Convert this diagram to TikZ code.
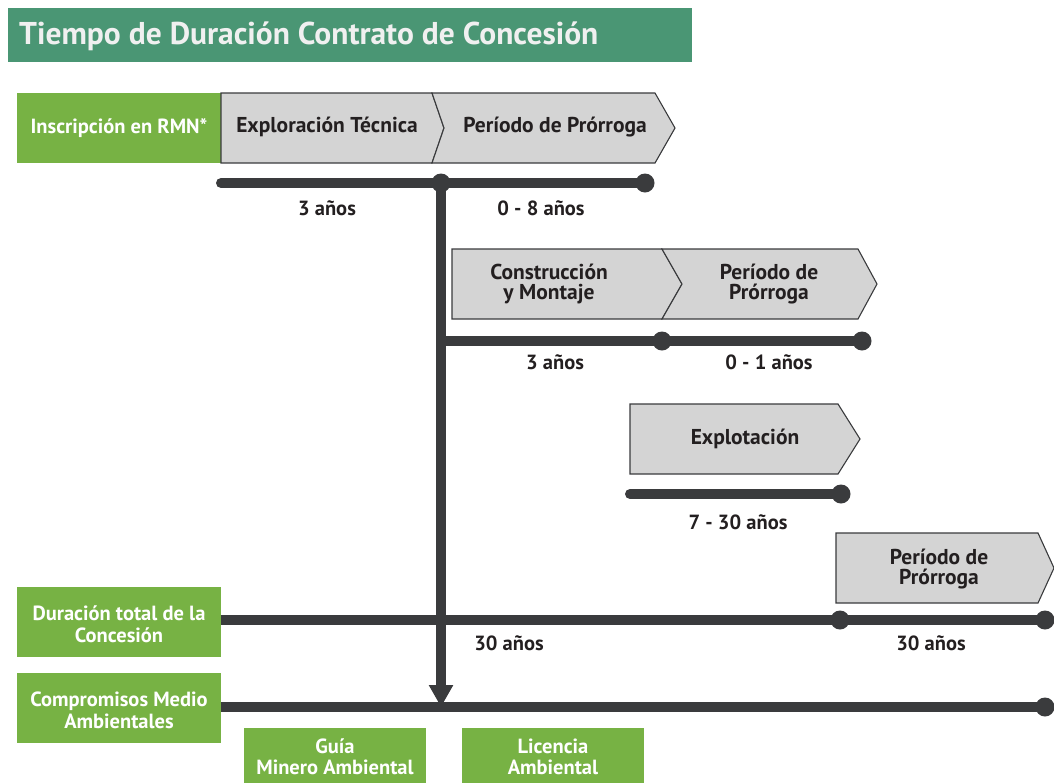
\documentclass[tikz,border=0pt]{standalone}
\usepackage{fontspec}
\setmainfont{PT Sans}
\usetikzlibrary{arrows.meta}
\definecolor{grn}{HTML}{77B244}
\definecolor{ttl}{HTML}{4A9674}
\definecolor{dk}{HTML}{3A3B3D}
\definecolor{gry}{HTML}{D4D4D4}
\definecolor{txt}{HTML}{231F20}
\begin{document}
\begin{tikzpicture}[x=1pt,y=-1pt,
  greenbox/.style={fill=grn,text=white,font=\fontsize{20.5}{22}\selectfont\bfseries,align=center,inner sep=0pt},
  chev/.style={fill=gry,draw=dk,line width=1.1pt,line join=miter},
  chevtext/.style={text=txt,font=\fontsize{21.5}{19.5}\selectfont\bfseries,align=center,inner sep=0pt},
  lab/.style={text=txt,font=\fontsize{20.5}{20}\selectfont\bfseries,inner sep=0pt},
  tl/.style={draw=dk,line width=10pt,line cap=round},
  dotc/.style={circle,fill=dk,minimum size=19pt,inner sep=0pt}]
\useasboundingbox (0,0) rectangle (1054,782);
% title
\fill[ttl] (8,8) rectangle (692,62);
\node[anchor=west,text=white!94!black,font=\fontsize{31.5}{31}\selectfont\bfseries,inner sep=0pt] (title) at (19,36) {Tiempo de Duración Contrato de Concesión};
% left green boxes
\fill[grn] (17,93) rectangle (221,163);
\node[greenbox] (rmn) at (119,128) {Inscripción en RMN*};
\fill[grn] (17,587) rectangle (221,657);
\node[greenbox] (dur) at (119,624) {Duración total de la\\Concesión};
\fill[grn] (17,673) rectangle (221,743);
\node[greenbox] (comp) at (119,710) {Compromisos Medio\\Ambientales};
\fill[grn] (244,728) rectangle (426,785);
\node[greenbox,font=\fontsize{20.5}{21}\selectfont\bfseries] (guia) at (335,757) {Guía\\Minero Ambiental};
\fill[grn] (462,728) rectangle (644,785);
\node[greenbox,font=\fontsize{20.5}{21}\selectfont\bfseries] (lic) at (553,757) {Licencia\\Ambiental};
% row 1 chevrons
\draw[chev] (221,93) -- (432,93) -- (444,128) -- (432,163) -- (221,163) -- cycle;
\draw[chev] (432,93) -- (655,93) -- (675,128) -- (655,163) -- (432,163) -- (444,128) -- cycle;
\node[chevtext] (expl) at (327,127) {Exploración Técnica};
\node[chevtext] (pp1) at (555,127) {Período de Prórroga};
% row 2 chevrons
\draw[chev] (452,249) -- (662,249) -- (682,284) -- (662,319) -- (452,319) -- cycle;
\draw[chev] (662,249) -- (858,249) -- (877,284) -- (858,319) -- (662,319) -- (682,284) -- cycle;
\node[chevtext] (const) at (549,284) {Construcción\\y Montaje};
\node[chevtext] (pp2) at (769,284) {Período de\\Prórroga};
% row 3 chevron
\draw[chev] (630,404) -- (838,404) -- (860,439) -- (838,474) -- (630,474) -- cycle;
\node[chevtext] (explot) at (745,439) {Explotación};
% row 4 chevron
\draw[chev] (836,533) -- (1038,533) -- (1054,568) -- (1038,603) -- (836,603) -- cycle;
\node[chevtext] (pp4) at (939,569) {Período de\\Prórroga};
% coordinates
\coordinate (a0) at (221,183); \coordinate (a1) at (441,183); \coordinate (a2) at (645,183);
\coordinate (b0) at (441,341); \coordinate (b1) at (662,341); \coordinate (b2) at (862,341);
\coordinate (c0) at (630,494); \coordinate (c1) at (841,494);
\coordinate (d0) at (221,620); \coordinate (d1) at (840,620); \coordinate (d2) at (1045,620);
\coordinate (e0) at (221,707); \coordinate (e1) at (441,707); \coordinate (e2) at (1045,707);
% timelines
\draw[tl] (a0) -- (a2);
\draw[tl,line cap=butt] (b0) -- (b2);
\draw[tl] (c0) -- (c1);
\draw[tl,line cap=butt] (d0) -- (d2);
\draw[tl,line cap=butt] (e0) -- (e2);
\draw[draw=dk,line width=10pt,-{Triangle[length=22pt,width=23pt]}] (a1) -- (e1);
\node[dotc] (da1) at (a1) {}; \node[dotc] (da2) at (a2) {};
\node[dotc] (db1) at (b1) {}; \node[dotc] (db2) at (b2) {};
\node[dotc] (dc1) at (c1) {};
\node[dotc] (dd1) at (d1) {}; \node[dotc] (dd2) at (d2) {};
\node[dotc] (de2) at (e2) {};
% labels
\node[lab] (l1) at (327,208) {3 años};
\node[lab] (l2) at (541,208) {0 - 8 años};
\node[lab] (l3) at (555,362) {3 años};
\node[lab] (l4) at (769,362) {0 - 1 años};
\node[lab] (l5) at (738,522) {7 - 30 años};
\node[lab] (l6) at (509,643) {30 años};
\node[lab] (l7) at (931,643) {30 años};
\end{tikzpicture}
\end{document}
